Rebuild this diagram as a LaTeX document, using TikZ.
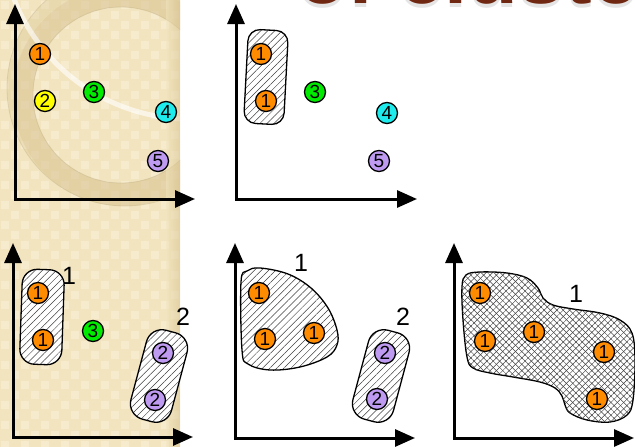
\documentclass[tikz,border=0pt]{standalone}
\usepackage{fontspec}
\setmainfont{Liberation Sans}
\usetikzlibrary{arrows.meta,patterns.meta}
\definecolor{stripbg}{RGB}{242,228,190}
\definecolor{stripsq}{RGB}{246,235,205}
\definecolor{ringc}{RGB}{214,192,140}
\definecolor{cOrange}{RGB}{255,140,0}
\definecolor{cYellow}{RGB}{255,255,0}
\definecolor{cGreen}{RGB}{0,235,0}
\definecolor{cCyan}{RGB}{30,235,235}
\definecolor{cPurple}{RGB}{190,155,240}
\definecolor{titlec}{RGB}{112,40,18}
\tikzset{
 axis/.style={line width=3pt, {Triangle[length=20pt,width=17pt]}-{Triangle[length=20pt,width=17pt]}},
 dot/.style={circle, draw, line width=1.3pt, minimum size=21pt, inner sep=0pt, font=\fontsize{19}{19}\selectfont},
 hatch/.style={draw, line width=1.3pt, preaction={fill=white}, pattern={Lines[angle=45,distance=5pt,line width=0.5pt]}, pattern color=black!75},
 xhatch/.style={draw, line width=1.3pt, preaction={fill=white}, pattern={Lines[angle=45,distance=4.5pt,line width=0.5pt]}, pattern color=black!75, postaction={pattern={Lines[angle=-45,distance=4.5pt,line width=0.5pt]}, pattern color=black!75}},
 caps/.style={hatch, rectangle, rounded corners=15pt, minimum width=41pt, minimum height=92pt},
 lbl/.style={font=\fontsize{25}{25}\selectfont, inner sep=0pt},
 ttl/.style={anchor=base west, inner sep=0pt, font=\fontsize{83}{83}\selectfont\bfseries},
}
\begin{document}
\begin{tikzpicture}[x=1pt,y=-1pt]
\useasboundingbox (0,0) rectangle (635,447);
% decorative strip
\fill[stripbg] (0,0) rectangle (180,447);
\fill[stripsq] \foreach \i in {0,20,...,160} {\foreach \j in {0,20,...,440} {(\i+1,\j+1) rectangle ++(8,8) (\i+11,\j+11) rectangle ++(8,8)}};
\begin{scope}
\clip (0,0) rectangle (180,230);
\fill[ringc, opacity=0.3, even odd rule] (125,88) circle[radius=118] (121,95) circle[radius=88];
\fill[ringc, opacity=0.3, even odd rule] (123,96) circle[radius=110] (121,95) circle[radius=88];
\draw[ringc!80!black, opacity=0.25, line width=0.8pt] (125,88) circle[radius=118] (121,95) circle[radius=88];
\draw[white, opacity=0.6, line width=5pt] (190,-70) circle[radius=189];
\end{scope}
\shade[left color=stripbg, right color=ringc, opacity=0.5] (166,0) rectangle (180,447);
% title fragment
\begin{scope}
\clip (0,0) rectangle (635,447);
\node[ttl, text=black, opacity=0.1] (sh) at (297,8) {of clusters};
\node[ttl, text=titlec] (title) at (297,4) {of clusters};
\end{scope}
% ---------- panel 1 ----------
\coordinate (o1) at (15,199); \coordinate (y1) at (15,4); \coordinate (x1) at (195,199);
\draw[axis] (y1) -- (o1) -- (x1);
\node[dot, fill=cOrange] (p1a) at (40,54) {1};
\node[dot, fill=cYellow] (p1b) at (45,101) {2};
\node[dot, fill=cGreen] (p1c) at (94,92) {3};
\node[dot, fill=cCyan] (p1d) at (166,112) {4};
\node[dot, fill=cPurple] (p1e) at (158,161) {5};
% ---------- panel 2 ----------
\coordinate (o2) at (236,199); \coordinate (y2) at (236,4); \coordinate (x2) at (417,199);
\draw[axis] (y2) -- (o2) -- (x2);
\node[caps, rotate=-3, minimum width=40pt, minimum height=94pt, rounded corners=12pt] (c2a) at (266,77) {};
\node[dot, fill=cOrange] (p2a) at (261,54) {1};
\node[dot, fill=cOrange] (p2b) at (266,101) {1};
\node[dot, fill=cGreen] (p2c) at (315,92) {3};
\node[dot, fill=cCyan] (p2d) at (387,113) {4};
\node[dot, fill=cPurple] (p2e) at (379,161) {5};
% ---------- panel 3 ----------
\coordinate (o3) at (13,437); \coordinate (y3) at (13,243); \coordinate (x3) at (193,437);
\draw[axis] (y3) -- (o3) -- (x3);
\node[caps, rotate=-2, minimum width=42pt, minimum height=95pt] (c3a) at (42,317) {};
\node[caps, rotate=-15, minimum width=42pt, minimum height=92pt, rounded corners=16pt] (c3b) at (159,376) {};
\node[dot, fill=cOrange] (p3a) at (38,293) {1};
\node[dot, fill=cOrange] (p3b) at (43,340) {1};
\node[dot, fill=cGreen] (p3c) at (93,331) {3};
\node[dot, fill=cPurple] (p3d) at (163,353) {2};
\node[dot, fill=cPurple] (p3e) at (155,400) {2};
\node[lbl] (l3a) at (69,276) {1};
\node[lbl] (l3b) at (183,317) {2};
% ---------- panel 4 ----------
\coordinate (o4) at (235,438); \coordinate (y4) at (235,243); \coordinate (x4) at (415,438);
\draw[axis] (y4) -- (o4) -- (x4);
\draw[hatch] plot[smooth cycle, tension=0.6] coordinates {(241,282) (247,271) (260,268) (288,274) (311,288) (328,308) (337,330) (337,345) (327,357) (300,367) (270,370) (248,364) (242,350)};
\node[caps, rotate=-15, minimum width=42pt, minimum height=92pt, rounded corners=16pt] (c4b) at (381,376) {};
\node[dot, fill=cOrange] (p4a) at (259,293) {1};
\node[dot, fill=cOrange] (p4b) at (265,339) {1};
\node[dot, fill=cOrange] (p4c) at (314,333) {1};
\node[dot, fill=cPurple] (p4d) at (385,353) {2};
\node[dot, fill=cPurple] (p4e) at (377,399) {2};
\node[lbl] (l4a) at (301,263) {1};
\node[lbl] (l4b) at (403,317) {2};
% ---------- panel 5 ----------
\coordinate (o5) at (454,438); \coordinate (y5) at (454,243); \coordinate (x5) at (634,438);
\draw[axis] (y5) -- (o5) -- (x5);
\draw[xhatch] plot[smooth cycle, tension=0.6] coordinates {(462,287) (466,275) (480,272) (507,273) (527,278) (538,288) (543,298) (553,305) (573,309) (600,313) (620,320) (632,333) (635,360) (633,400) (627,415) (610,422) (587,420) (570,413) (565,405) (562,396) (555,388) (540,382) (513,377) (490,373) (473,368) (467,357) (463,320)};
\node[dot, fill=cOrange] (p5a) at (480,293) {1};
\node[dot, fill=cOrange] (p5b) at (485,341) {1};
\node[dot, fill=cOrange] (p5c) at (534,332) {1};
\node[dot, fill=cOrange] (p5d) at (604,352) {1};
\node[dot, fill=cOrange] (p5e) at (597,399) {1};
\node[lbl] (l5a) at (576,294) {1};
\end{tikzpicture}
\end{document}
